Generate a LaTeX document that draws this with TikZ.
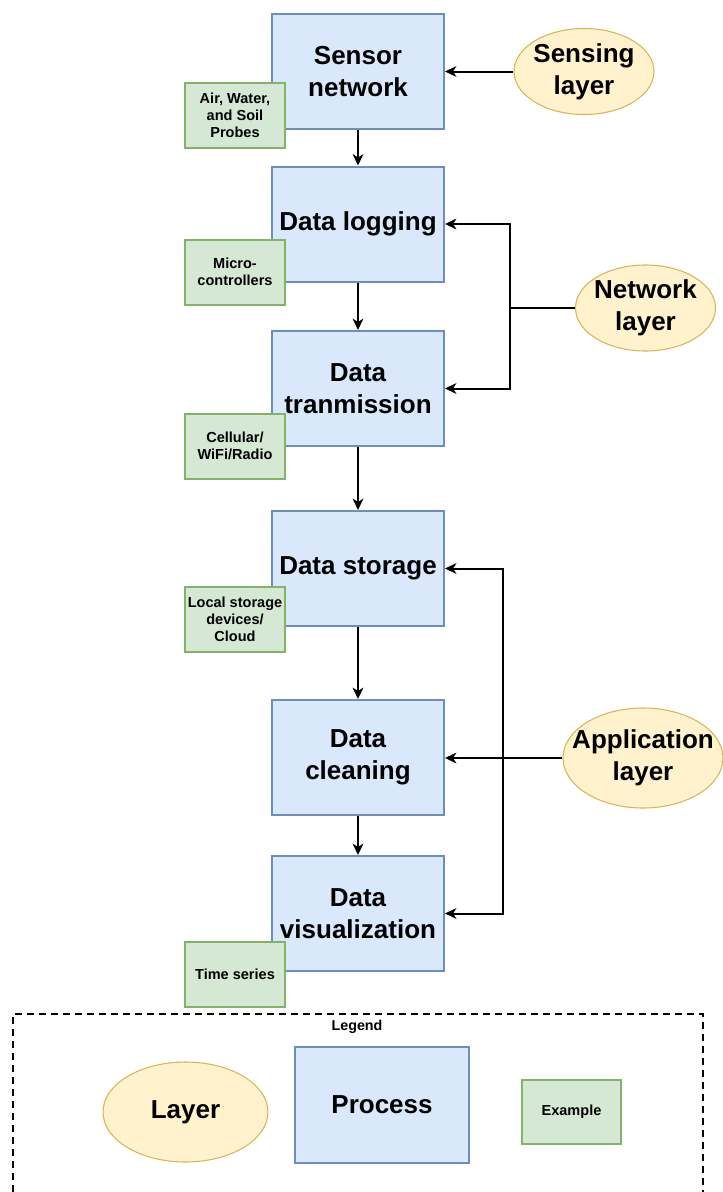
\documentclass[tikz,border=0pt]{standalone}
\usepackage{fontspec}
\setmainfont{Liberation Sans}
\usetikzlibrary{arrows.meta,shapes.geometric}
\definecolor{bfill}{HTML}{DAE8FC}
\definecolor{bdraw}{HTML}{6C8EBF}
\definecolor{gfill}{HTML}{D5E8D4}
\definecolor{gdraw}{HTML}{82B366}
\definecolor{yfill}{HTML}{FFF2CC}
\definecolor{ydraw}{HTML}{D6B656}
\tikzset{
  procbox/.style={draw=bdraw,fill=bfill,line width=1.5pt,minimum width=129pt,minimum height=86.25pt,inner sep=0pt,align=center,font=\fontsize{19.5pt}{24pt}\selectfont\bfseries},
  exbox/.style={draw=gdraw,fill=gfill,line width=1.5pt,minimum width=75pt,minimum height=48.75pt,inner sep=0pt,align=center,font=\fontsize{10.9pt}{12.75pt}\selectfont\bfseries},
  layerell/.style={ellipse,draw=ydraw,fill=yfill,line width=0.8pt,inner sep=0pt},
  ltext/.style={align=center,font=\fontsize{19.5pt}{24pt}\selectfont\bfseries},
  arr/.style={line width=1.5pt,-{Stealth[length=8.5pt,width=8pt,inset=2.5pt]}},
  ln/.style={line width=1.5pt}
}
\begin{document}
\begin{tikzpicture}[x=0.75pt,y=-0.75pt]
\useasboundingbox (0,0) rectangle (722,1192);
% process boxes
\node[procbox] (sensor) at (358,71.5) {Sensor\\network};
\node[procbox] (logging) at (358,224) {Data logging};
\node[procbox] (trans) at (358,388.5) {Data\\tranmission};
\node[procbox] (storage) at (358,568.5) {Data storage};
\node[procbox] (clean) at (358,757.5) {Data\\cleaning};
\node[procbox] (vis) at (358,913.5) {Data\\visualization};
% example boxes
\node[exbox] (ex1) at (235,115.5) {Air, Water,\\and Soil\\Probes};
\node[exbox] (ex2) at (235,272) {Micro-\\controllers};
\node[exbox] (ex3) at (235,446) {Cellular/\\WiFi/Radio};
\node[exbox] (ex4) at (235,619) {Local storage\\devices/\\Cloud};
\node[exbox] (ex5) at (235,974) {Time series};
% layers
\node[layerell,minimum width=105pt,minimum height=64.5pt,label={[ltext]center:Sensing\\layer}] (sense) at (584,71.5) {};
\node[layerell,minimum width=105pt,minimum height=64.5pt,label={[ltext]center:Network\\layer}] (net) at (645.5,308) {};
\node[layerell,minimum width=120pt,minimum height=75pt,label={[ltext]center:Application\\layer}] (app) at (643,758) {};
% connectors
\draw[arr] (sensor.south) -- (logging.north);
\draw[arr] (logging.south) -- (trans.north);
\draw[arr] (trans.south) -- (storage.north);
\draw[arr] (storage.south) -- (clean.north);
\draw[arr] (clean.south) -- (vis.north);
\draw[arr] (sense.west) -- (sense.west -| sensor.east);
\coordinate (nj) at (510,308);
\draw[ln] (net.west) -- (nj);
\draw[arr] (nj) |- (logging.east);
\draw[arr] (nj) |- (trans.east);
\coordinate (aj) at (503,758);
\draw[arr] (app.west) -- (app.west -| clean.east);
\draw[arr] (aj) |- (storage.east);
\draw[arr] (aj) |- (vis.east);
% legend
\draw[line width=1.5pt,dash pattern=on 5.25pt off 3.75pt] (13,1192) -- (13,1014) -- (703,1014) -- (703,1192);
\node[font=\fontsize{10.7pt}{12pt}\selectfont\bfseries] (legend) at (357,1027) {Legend};
\node[layerell,minimum width=123.75pt,minimum height=75pt,label={[ltext]center:Layer}] (lay) at (185.5,1112) {};
\node[procbox,minimum width=130.5pt,minimum height=87pt] (proc) at (382,1105) {Process};
\node[exbox,minimum width=74.25pt,minimum height=48pt] (exm) at (571.5,1112) {Example};
\end{tikzpicture}
\end{document}
